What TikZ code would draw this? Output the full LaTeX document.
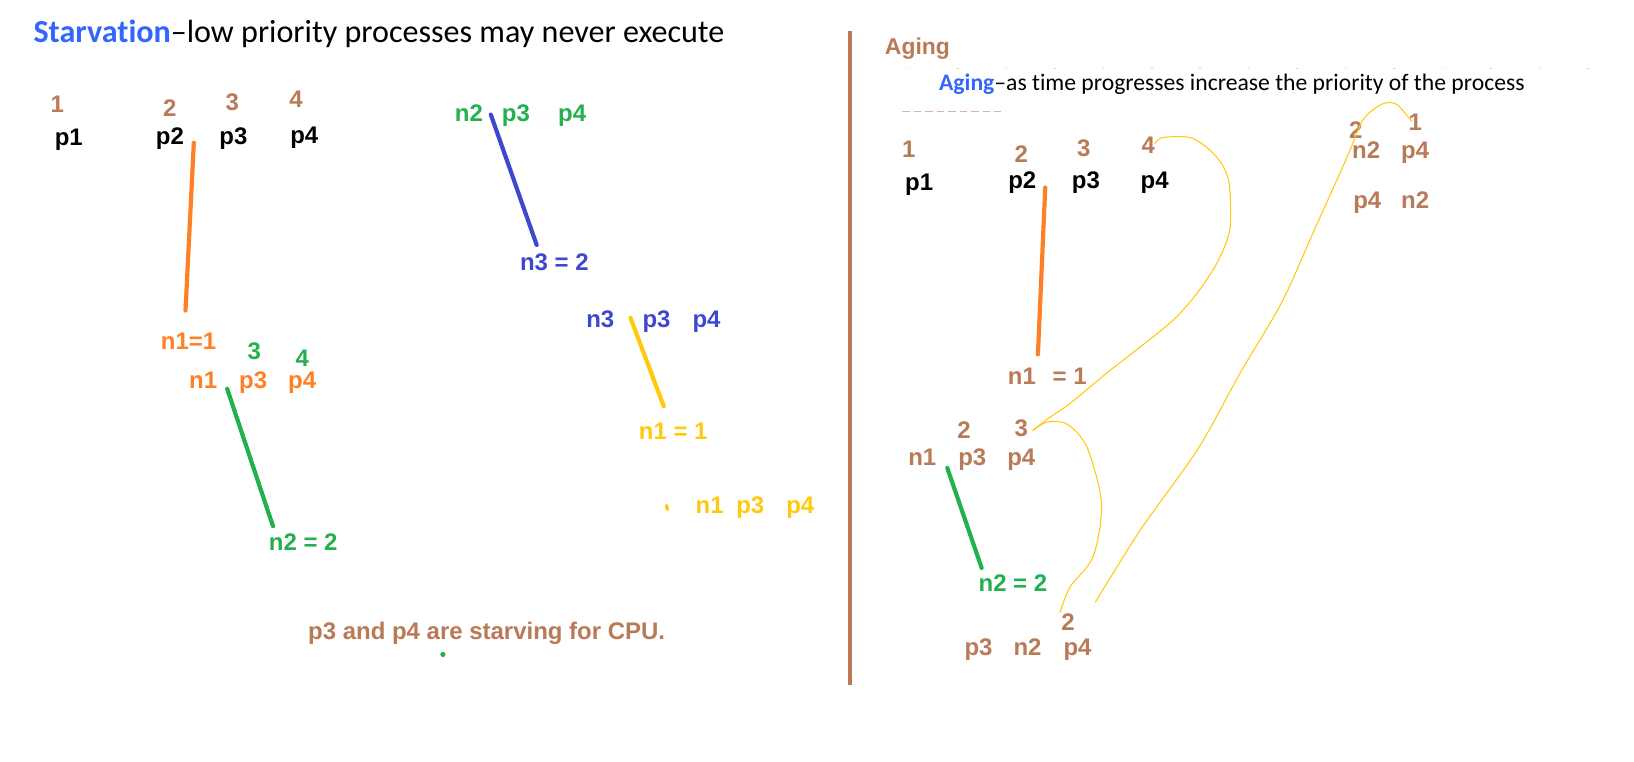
\documentclass[tikz,border=0pt]{standalone}
\usepackage{fontspec}
\setmainfont{Liberation Sans}
\newfontfamily\calfont[Ligatures=NoCommon]{Carlito}
\definecolor{brn}{HTML}{B97A57}
\definecolor{org}{HTML}{FF7F27}
\definecolor{grn}{HTML}{22B14C}
\definecolor{blu}{HTML}{3F48CC}
\definecolor{ylw}{HTML}{FFC90E}
\definecolor{tblue}{HTML}{3366FF}
\begin{document}
\begin{tikzpicture}[x=1pt,y=-1pt,
  lbl/.style={anchor=base,inner sep=0pt,font=\bfseries\fontsize{23}{23}\selectfont},
  stroke/.style={line width=4pt,line cap=round},
  thin curve/.style={ylw,line width=1pt}]
\useasboundingbox (0,0) rectangle (1568,731);
\fill[white] (0,0) rectangle (1568,731);
% ---------- left half ----------
\node[anchor=base west,inner sep=0pt,font=\calfont\fontsize{30.8}{31}\selectfont] (title1) at (32,41) {\textcolor{tblue}{\bfseries Starvation}–low priority processes may never execute};
\node[lbl,brn] (a1) at (55,108) {1};
\node[lbl,brn] (a2) at (163,112) {2};
\node[lbl,brn] (a3) at (223,106) {3};
\node[lbl,brn] (a4) at (284,103) {4};
\node[lbl] (p1) at (66,140) {p1};
\node[lbl] (p2) at (163,139) {p2};
\node[lbl] (p3) at (224,139) {p3};
\node[lbl] (p4) at (292,138) {p4};
\coordinate (o1s) at (186,137);
\coordinate (o1e) at (178,298);
\draw[stroke,org] (o1s) -- (o1e);
\node[lbl,org] (n1eq) at (181,335) {n1=1};
\node[lbl,grn] (b3) at (244,345) {3};
\node[lbl,grn] (b4) at (290,352) {4};
\node[lbl,org] (bn1) at (195,373) {n1};
\node[lbl,org] (bp3) at (243,373) {p3};
\node[lbl,org] (bp4) at (290,373) {p4};
\coordinate (g1s) at (218,373);
\coordinate (g1e) at (262,505);
\draw[stroke,grn] (g1s) -- (g1e);
\node[lbl,grn] (n2eq) at (291,528) {n2 = 2};
\node[lbl,grn] (cn2) at (450,117) {n2};
\node[lbl,grn] (cp3) at (495,117) {p3};
\node[lbl,grn] (cp4) at (549,117) {p4};
\coordinate (b1s) at (471,110);
\coordinate (b1e) at (515,235);
\draw[stroke,blu] (b1s) -- (b1e);
\node[lbl,blu] (n3eq) at (532,260) {n3 = 2};
\node[lbl,blu] (dn3) at (576,314) {n3};
\node[lbl,blu] (dp3) at (630,314) {p3};
\node[lbl,blu] (dp4) at (678,314) {p4};
\coordinate (y1s) at (605,305);
\coordinate (y1e) at (637,390);
\draw[stroke,ylw] (y1s) -- (y1e);
\node[lbl,ylw] (n1eqy) at (646,422) {n1 = 1};
\fill[ylw,rotate around={15:(640,487)}] (640,487) ellipse (1.8 and 3.5);
\node[lbl,ylw] (en1) at (681,493) {n1};
\node[lbl,ylw] (ep3) at (720,493) {p3};
\node[lbl,ylw] (ep4) at (768,493) {p4};
\node[lbl,brn] (starve) at (467,614) {p3 and p4 are starving for CPU.};
\fill[grn] (425,628) circle (2.5);
% ---------- divider ----------
\coordinate (divt) at (816,30);
\coordinate (divb) at (816,657);
\draw[brn,line width=4pt] (divt) -- (divb);
% ---------- right half ----------
\node[anchor=base west,inner sep=0pt,brn,font=\bfseries\fontsize{22}{22}\selectfont] (aging) at (849,52) {Aging};
\draw[brn!40,line width=0.8pt,dash pattern=on 1.5pt off 45pt] (872,66) -- (1560,66);
\draw[brn!55,line width=1.5pt,dash pattern=on 7pt off 4pt] (866,107) -- (962,107);
\node[anchor=base west,inner sep=0pt,font=\calfont\fontsize{22.7}{23}\selectfont] (title2) at (901,87) {\textcolor{tblue}{\bfseries Aging}–as time progresses increase the priority of the process};
\node[lbl,brn] (r1) at (872,151) {1};
\node[lbl,brn] (r2) at (980,156) {2};
\node[lbl,brn] (r3) at (1040,150) {3};
\node[lbl,brn] (r4) at (1102,147) {4};
\node[lbl] (q1) at (882,183) {p1};
\node[lbl] (q2) at (981,181) {p2};
\node[lbl] (q3) at (1042,181) {p3};
\node[lbl] (q4) at (1108,181) {p4};
\coordinate (o2s) at (1003,180);
\coordinate (o2e) at (996,340);
\draw[stroke,org] (o2s) -- (o2e);
\node[lbl,brn] (rn1eq) at (1005,369) {n1\hspace{0.7em}= 1};
\node[lbl,brn] (s2) at (925,421) {2};
\node[lbl,brn] (s3) at (980,419) {3};
\node[lbl,brn] (sn1) at (885,447) {n1};
\node[lbl,brn] (sp3) at (933,447) {p3};
\node[lbl,brn] (sp4) at (980,447) {p4};
\fill[white] (915,425) rectangle (1000,430);
\coordinate (g2s) at (909,449);
\coordinate (g2e) at (942,545);
\draw[stroke,grn] (g2s) -- (g2e);
\node[lbl,grn] (rn2eq) at (972,568) {n2 = 2};
\node[lbl,brn] (t2) at (1025,605) {2};
\node[lbl,brn] (tp3) at (939,629) {p3};
\node[lbl,brn] (tn2) at (986,629) {n2};
\node[lbl,brn] (tp4) at (1034,629) {p4};
\node[lbl,brn] (u2) at (1301,133) {2};
\node[lbl,brn] (u1) at (1358,125) {1};
\node[lbl,brn] (un2) at (1311,152) {n2};
\node[lbl,brn] (up4) at (1358,152) {p4};
\node[lbl,brn] (vp4) at (1312,200) {p4};
\node[lbl,brn] (vn2) at (1358,200) {n2};
% thin yellow curves
\draw[thin curve] plot[smooth,tension=0.5] coordinates {(1108,138) (1116,132) (1142,132) (1161,144) (1174,160) (1180,180) (1180,221) (1168,252) (1149,281) (1126,307) (1094,333) (1062,358) (1027,387) (1008,400) (991,413)};
\draw[thin curve] plot[smooth,tension=0.5] coordinates {(991,413) (1005,405) (1024,407) (1043,429) (1057,483) (1049,534) (1027,563) (1017,588)};
\draw[thin curve] plot[smooth,tension=0.5] coordinates {(1051,578) (1094,509) (1150,430) (1190,358) (1230,290) (1262,219) (1293,150) (1308,115) (1326,100) (1340,100) (1355,117)};
\end{tikzpicture}
\end{document}
